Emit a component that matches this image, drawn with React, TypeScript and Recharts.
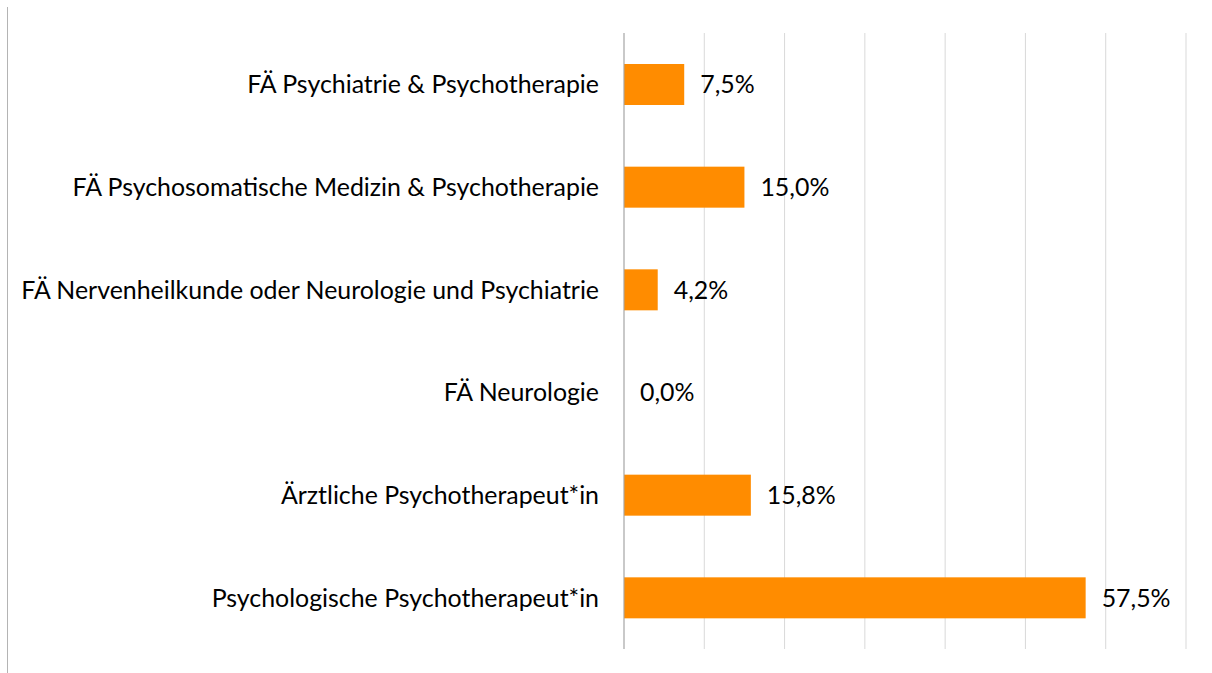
import React from "react";
import { BarChart, Bar, XAxis, YAxis, CartesianGrid, LabelList } from "recharts";

const categories = [
  "FÄ Psychiatrie & Psychotherapie",
  "FÄ Psychosomatische Medizin & Psychotherapie",
  "FÄ Nervenheilkunde oder Neurologie und Psychiatrie",
  "FÄ Neurologie",
  "Ärztliche Psychotherapeut*in",
  "Psychologische Psychotherapeut*in",
];
const values = [7.5, 15.0, 4.2, 0.0, 15.8, 57.5];
const xTicks = [0, 10, 20, 30, 40, 50, 60, 70];

const data = categories.map((name, i) => ({ name, value: values[i] }));

const FONT = "Lato, 'Open Sans', sans-serif";
const FS = 24.9;

const fmt = (v: any) => Number(v).toFixed(1).replace(".", ",") + "%";

const ValueLabel = (props: any) => {
  const { x, y, width, height, value } = props;
  const v = Number(value);
  const w = v === 0 ? 0 : Number(width || 0);
  const xx = Number(x) + w + 16;
  const yy = Number(y) + Number(height) / 2;
  return (
    <text x={xx} y={yy} dy="0.355em" fill="#000" fontSize={FS} fontFamily={FONT} textAnchor="start">
      {fmt(value)}
    </text>
  );
};

const BarShape = (props: any) => {
  const { x, y, width, height, fill, payload } = props;
  if (!payload || Number(payload.value) === 0) return <g />;
  return <rect x={x} y={y} width={width} height={height} fill={fill} />;
};

export default function App() {
  return (
    <div style={{ position: "absolute", left: 0, top: 0, width: 1212, height: 673, background: "#fff" }}>
      <div style={{ position: "absolute", left: 7, top: 7, width: 1, height: 666, background: "#b4b4b4" }} />
      <BarChart
        width={1212}
        height={673}
        data={data}
        layout="vertical"
        margin={{ top: 33, right: 26, bottom: 24, left: 0 }}
        barCategoryGap={0}
        style={{ fontFamily: FONT }}
      >
        <CartesianGrid horizontal={false} stroke="#d9d9d9" strokeWidth={1} />
        <XAxis type="number" domain={[0, 70]} ticks={xTicks} hide />
        <YAxis
          type="category"
          dataKey="name"
          width={624}
          axisLine={{ stroke: "#a6a6a6", strokeWidth: 1 }}
          tickLine={false}
          tickSize={25}
          tickMargin={0}
          tick={{ fill: "#000", fontSize: FS, fontFamily: FONT }}
          interval={0}
        />
        <Bar dataKey="value" fill="#FF8C00" barSize={41} minPointSize={1} shape={BarShape} isAnimationActive={false}>
          <LabelList dataKey="value" content={ValueLabel} />
        </Bar>
      </BarChart>
    </div>
  );
}
